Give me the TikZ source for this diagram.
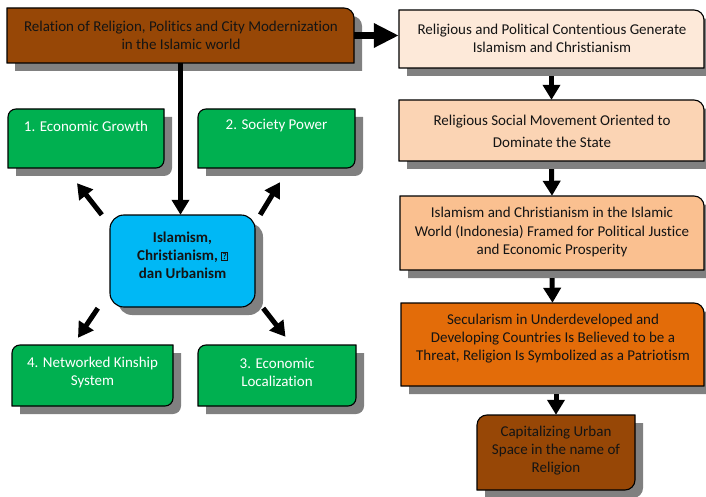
\documentclass[tikz,border=0pt]{standalone}
\usepackage{fontspec}
\setmainfont{Carlito}[Ligatures={NoCommon}]
\usetikzlibrary{arrows.meta,fit}
\definecolor{brownc}{HTML}{974706}
\definecolor{peachA}{HTML}{FDE9D9}
\definecolor{peachB}{HTML}{FBD4B4}
\definecolor{peachC}{HTML}{FAC090}
\definecolor{orangec}{HTML}{E36C09}
\definecolor{greenc}{HTML}{00B050}
\definecolor{bluec}{HTML}{00B8F5}
\definecolor{shadowc}{HTML}{808080}
\definecolor{textc}{HTML}{141414}
% path with per-corner radii: x1 y1 x2 y2 rtl rtr rbr rbl options
\newcommand\shpath[9]{%
  \path[#9] ({#1+#5},{-(#2)}) -- ({#3-#6},{-(#2)})
    arc[start angle=90,end angle=0,radius=#6] -- ({#3},{-(#4)+#7})
    arc[start angle=0,end angle=-90,radius=#7] -- ({#1+#8},{-(#4)})
    arc[start angle=-90,end angle=-180,radius=#8] -- ({#1},{-(#2)-#5})
    arc[start angle=180,end angle=90,radius=#5] -- cycle;}
% shape with shadow: x1 y1 x2 y2 fill rtl rtr rbr rbl
\newcommand\shp[9]{%
  \shpath{#1+8}{#2+8}{#3+8}{#4+8}{#6}{#7}{#8}{#9}{fill=shadowc}
  \shpath{#1}{#2}{#3}{#4}{#6}{#7}{#8}{#9}{fill=#5,draw=black,line width=1.1pt}}
\tikzset{
  boxn/.style={inner sep=0pt, draw=none},
  txt/.style={align=center, font=\fontsize{15}{18}\selectfont, text=textc, inner sep=0pt},
  wtxt/.style={txt, text=white},
  btxt/.style={txt, font=\fontsize{15}{18}\selectfont\bfseries},
  fat/.style={line width=5pt, -{Triangle[length=15pt,width=17pt]}},
  big/.style={line width=7pt, -{Triangle[length=25pt,width=23pt]}}
}
\begin{document}
\begin{tikzpicture}[x=1pt,y=1pt]
\useasboundingbox (0,0) rectangle (706,-497);
% shapes
\shp{7}{8}{354}{63}{brownc}{0.01}{10}{0.01}{0.01}
\shp{399}{10}{704}{68}{peachA}{0.01}{10}{0.01}{0.01}
\shp{399}{100}{704}{161}{peachB}{0.01}{10}{0.01}{0.01}
\shp{400}{196}{704}{270}{peachC}{0.01}{10}{0.01}{0.01}
\shp{401}{303}{704}{386}{orangec}{0.01}{10}{0.01}{0.01}
\shp{477}{415}{635}{490}{brownc}{10}{0.01}{10}{0.01}
\shp{8}{109}{164}{168}{greenc}{8}{0.01}{8}{0.01}
\shp{198}{109}{355}{168}{greenc}{8}{0.01}{8}{0.01}
\shp{12}{345}{173}{406}{greenc}{8}{0.01}{8}{0.01}
\shp{198}{345}{356}{406}{greenc}{8}{0.01}{8}{0.01}
\shp{110}{215}{255}{307}{bluec}{14}{14}{14}{14}
% box nodes
\node[boxn, fit={(7,-8)(354,-63)}] (top) {};
\node[boxn, fit={(399,-10)(704,-68)}] (r1) {};
\node[boxn, fit={(399,-100)(704,-161)}] (r2) {};
\node[boxn, fit={(400,-196)(704,-270)}] (r3) {};
\node[boxn, fit={(401,-303)(704,-386)}] (r4) {};
\node[boxn, fit={(477,-415)(635,-490)}] (r5) {};
\node[boxn, fit={(8,-109)(164,-168)}] (g1) {};
\node[boxn, fit={(198,-109)(355,-168)}] (g2) {};
\node[boxn, fit={(12,-345)(173,-406)}] (g4) {};
\node[boxn, fit={(198,-345)(356,-406)}] (g3) {};
\node[boxn, fit={(110,-215)(255,-307)}] (blue) {};
% texts
\node[txt] (topt) at (181,-35) {Relation of Religion, Politics and City Modernization\\in the Islamic world};
\node[txt] (r1t) at (552,-38) {Religious and Political Contentious Generate\\Islamism and Christianism};
\node[txt, font=\fontsize{15}{22}\selectfont] (r2t) at (552,-131) {Religious Social Movement Oriented to\\Dominate the State};
\node[txt, font=\fontsize{15}{18.5}\selectfont] (r3t) at (552,-232) {Islamism and Christianism in the Islamic\\World (Indonesia) Framed for Political Justice\\and Economic Prosperity};
\node[txt] (r4t) at (553,-339) {Secularism in Underdeveloped and\\Developing Countries Is Believed to be a\\Threat, Religion Is Symbolized as a Patriotism};
\node[txt] (r5t) at (556,-451) {Capitalizing Urban\\Space in the name of\\Religion};
\node[wtxt] (g1t) at (86,-126) {1. Economic Growth};
\node[wtxt] (g2t) at (276.5,-126) {2. Society Power};
\node[wtxt] (g4t) at (92.5,-372) {4. Networked Kinship\\System};
\node[wtxt] (g3t) at (277,-372) {3. Economic\\Localization};
\node[btxt] (bluet) at (182.5,-255) {Islamism,\\Christianism, {\fboxsep=0.6pt\fboxrule=0.6pt\raisebox{0.5pt}{\fbox{\fontsize{9}{9}\selectfont ?}}}\\dan Urbanism};
% connectors
\draw[fat] (top.south) -- (top.south |- blue.north);
\draw[big] (top.east) -- (top.east -| r1.west);
\draw[fat] ([yshift=-8pt]r1.south) -- (r2.north);
\draw[fat] ([yshift=-8pt]r2.south) -- (r3.north);
\draw[fat] ([yshift=-8pt]r3.south) -- (r4.north);
\draw[fat] ([yshift=-8pt]r4.south -| r5.north) -- (r5.north);
\draw[fat] ([shift={(-8,0)}]blue.north west) -- ([shift={(-9,-15)}]g1.south);
\draw[fat] ([shift={(5,0)}]blue.north east) -- ([shift={(3.5,-14)}]g2.south);
\draw[fat] ([shift={(-12,-1)}]blue.south west) -- ([shift={(-14.5,7)}]g4.north);
\draw[fat] ([shift={(8,-1)}]blue.south east) -- ([shift={(8.5,8)}]g3.north);
\end{tikzpicture}
\end{document}
